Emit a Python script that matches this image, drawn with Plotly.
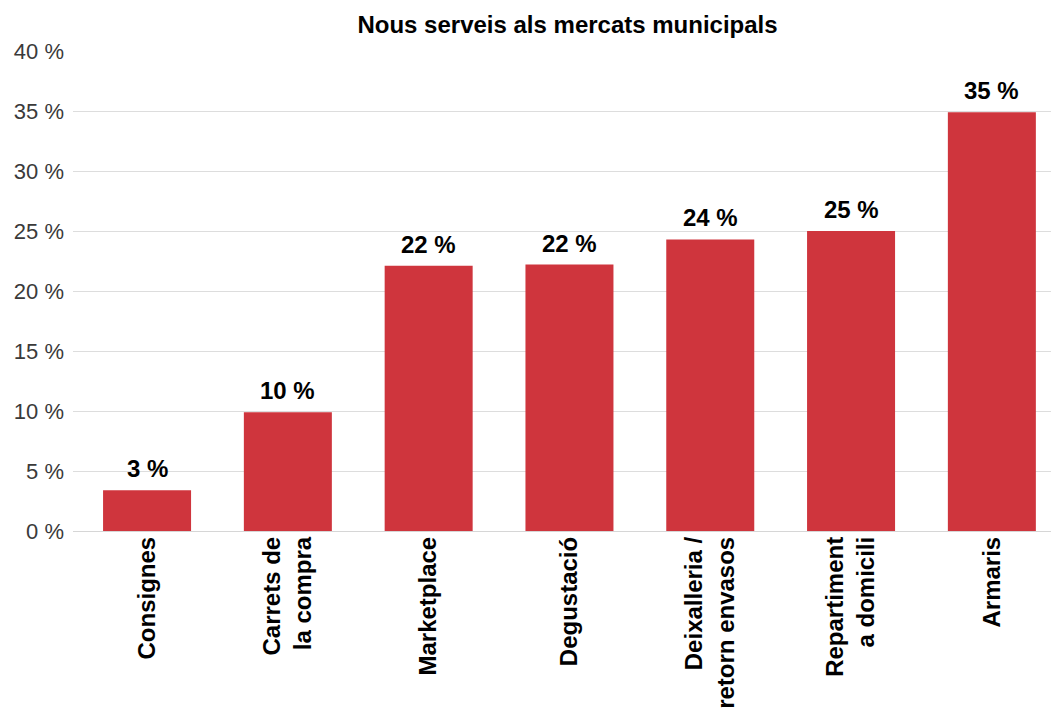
import plotly.graph_objects as go

# Survey results: share of respondents interested in each new market service
categories = [
    "Consignes",
    "Carrets de<br>la compra",
    "Marketplace",
    "Degustació",
    "Deixalleria /<br>retorn envasos",
    "Repartiment<br>a domicili",
    "Armaris",
]
values = [3.4, 9.9, 22.1, 22.2, 24.3, 25.0, 34.9]
y_ticks = [0, 5, 10, 15, 20, 25, 30, 35, 40]
y_tick_labels = [f"{v} %" for v in y_ticks]

BAR_COLOR = "#cf353d"
FONT = "Liberation Sans, Arial, Helvetica, sans-serif"

fig = go.Figure(
    go.Bar(
        x=categories,
        y=values,
        marker=dict(color=BAR_COLOR, line=dict(width=0)),
        hovertemplate="%{y:.1f} %<extra></extra>",
    )
)

# Value labels above each bar, rounded to whole percent
for cat, val in zip(categories, values):
    fig.add_annotation(
        x=cat,
        y=val,
        text=f"<b>{val:.0f} %</b>",
        showarrow=False,
        yanchor="bottom",
        yshift=6,
        font=dict(family=FONT, size=24, color="#000000"),
    )

fig.update_layout(
    width=1051,
    height=709,
    margin=dict(l=73, r=0, t=51, b=176),
    paper_bgcolor="white",
    plot_bgcolor="white",
    bargap=0.375,
    showlegend=False,
    font=dict(family=FONT),
    title=dict(
        text="<b>Nous serveis als mercats municipals</b>",
        x=0.54,
        xanchor="center",
        y=0.965,
        yanchor="middle",
        font=dict(family=FONT, size=24, color="#000000"),
    ),
)

fig.update_xaxes(
    type="category",
    range=[-0.526, 6.42],
    tickangle=-90,
    tickfont=dict(family=FONT, size=24, color="#000000"),
    ticks="",
    showline=False,
    showgrid=False,
    tickprefix="<b>",
    ticksuffix="</b>",
)

fig.update_yaxes(
    range=[0, 40],
    tickmode="array",
    tickvals=y_ticks,
    ticktext=y_tick_labels,
    tickfont=dict(family=FONT, size=22, color="#3a3a3a"),
    showgrid=True,
    gridcolor="#dddddd",
    gridwidth=1,
    zeroline=True,
    zerolinecolor="#d6d6d6",
    zerolinewidth=1,
    ticks="",
    ticklabelstandoff=8,
)

fig.write_html("out.html")
